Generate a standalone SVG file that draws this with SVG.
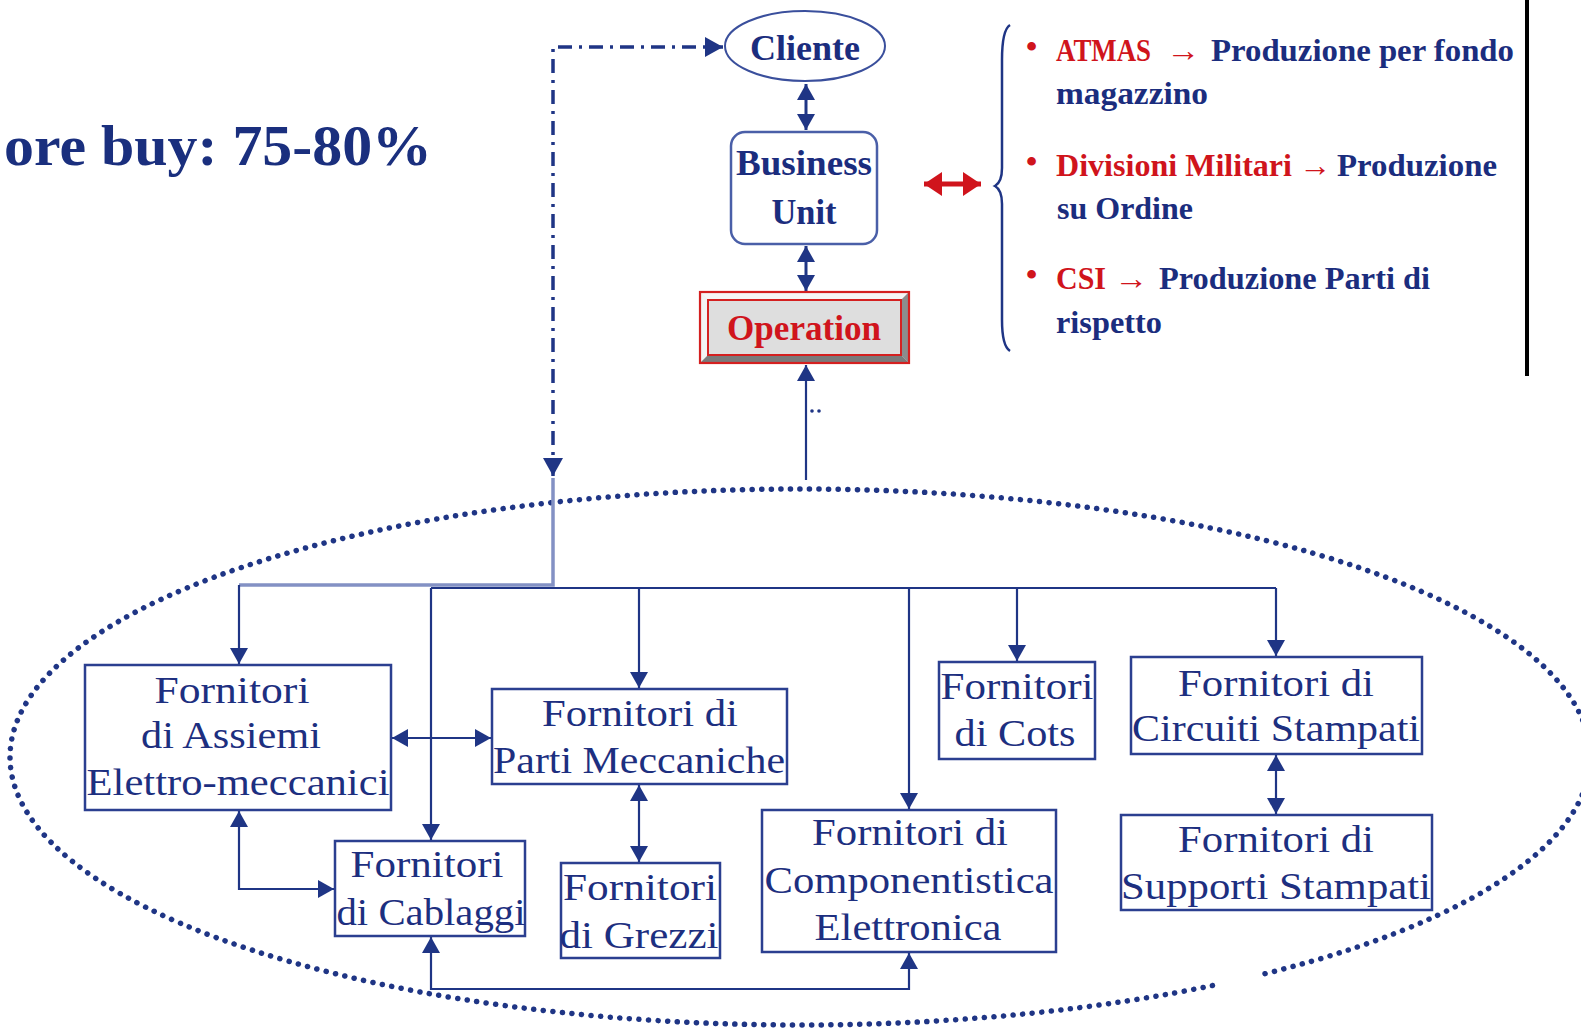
<svg xmlns="http://www.w3.org/2000/svg" width="1581" height="1028" viewBox="0 0 1581 1028">
  <style>
    .box { fill: #ffffff; stroke: #2b3f90; stroke-width: 2.5; }
    .lbl { font-family: "Liberation Serif", "Times New Roman", serif; font-size: 38px; fill: #1d2f80; text-anchor: middle; }
    .top { font-family: "Liberation Serif", "Times New Roman", serif; font-size: 36px; font-weight: bold; fill: #1b2d7e; text-anchor: middle; }
    .lst { font-family: "Liberation Serif", "Times New Roman", serif; font-size: 32px; font-weight: bold; fill: #1b2d7e; }
    .red { fill: #d0141c; }
    .wire { fill: none; stroke: #1f3585; stroke-width: 2.2; }
    .wire2 { fill: none; stroke: #1f3585; stroke-width: 3; }
  </style>
  <defs>
    <marker id="ah" viewBox="0 0 16 18" refX="16" refY="9" markerWidth="16" markerHeight="18" markerUnits="userSpaceOnUse" orient="auto-start-reverse">
      <path d="M0,0 L16,9 L0,18 z" fill="#1f3585"/>
    </marker>
    <marker id="ahBig" viewBox="0 0 18 20" refX="18" refY="10" markerWidth="18" markerHeight="20" markerUnits="userSpaceOnUse" orient="auto-start-reverse">
      <path d="M0,0 L18,10 L0,20 z" fill="#1f3585"/>
    </marker>
    <marker id="ahRed" viewBox="0 0 18 24" refX="18" refY="12" markerWidth="18" markerHeight="24" markerUnits="userSpaceOnUse" orient="auto-start-reverse">
      <path d="M0,0 L18,12 L0,24 z" fill="#d0141c"/>
    </marker>
  </defs>

  <rect width="1581" height="1028" fill="#ffffff"/>

  <!-- headline -->
  <text x="4" y="165" font-family="'Liberation Serif', 'Times New Roman', serif" font-size="58" font-weight="bold" fill="#1a2f7e" textLength="428" lengthAdjust="spacingAndGlyphs">ore buy: 75-80%</text>

  <!-- vertical rule on the right -->
  <line x1="1527" y1="0" x2="1527" y2="376" stroke="#000000" stroke-width="4"/>

  <!-- dotted supplier ellipse (open at the lower right) -->
  <path d="M1265,973.7 A790,268 0 0 0 800,489 A790,268 0 0 0 10,757 A790,268 0 0 0 1218,984.4" fill="none" stroke="#1f3585" stroke-width="5.5" stroke-linecap="round" stroke-dasharray="0.1 9.5"/>

  <!-- connectors -->
  <g id="connectors">
    <path class="wire2" d="M806,84 L806,130" marker-start="url(#ah)" marker-end="url(#ah)"/>
    <path class="wire2" d="M806,246 L806,291" marker-start="url(#ah)" marker-end="url(#ah)"/>
    <path class="wire" d="M806,480 L806,365" marker-end="url(#ah)"/>
    <circle cx="812" cy="411" r="1.8" fill="#1f3585"/>
    <circle cx="819" cy="411" r="1.8" fill="#1f3585"/>
    <path d="M553,476 L553,47 L723,47" fill="none" stroke="#1f3585" stroke-width="3.5" stroke-dasharray="14 7 3 7" marker-start="url(#ahBig)" marker-end="url(#ahBig)"/>
    <path d="M553,478 L553,585 L239,585" fill="none" stroke="#8391c4" stroke-width="3.5"/>
    <path class="wire" d="M239,585 L239,664" marker-end="url(#ah)"/>
    <path class="wire" d="M431,588 L1276,588"/>
    <path class="wire" d="M431,588 L431,840" marker-end="url(#ah)"/>
    <path class="wire" d="M639,588 L639,688" marker-end="url(#ah)"/>
    <path class="wire" d="M909,588 L909,809" marker-end="url(#ah)"/>
    <path class="wire" d="M1017,588 L1017,661" marker-end="url(#ah)"/>
    <path class="wire" d="M1276,588 L1276,656" marker-end="url(#ah)"/>
    <path class="wire" d="M392,738 L491,738" marker-start="url(#ah)" marker-end="url(#ah)"/>
    <path class="wire" d="M239,811 L239,889 L334,889" marker-start="url(#ah)" marker-end="url(#ah)"/>
    <path class="wire" d="M639,785 L639,862" marker-start="url(#ah)" marker-end="url(#ah)"/>
    <path class="wire" d="M1276,755 L1276,814" marker-start="url(#ah)" marker-end="url(#ah)"/>
    <path class="wire" d="M431,937 L431,989 L909,989 L909,953" marker-start="url(#ah)" marker-end="url(#ah)"/>
    <path d="M924,184 L981,184" fill="none" stroke="#d0141c" stroke-width="5" marker-start="url(#ahRed)" marker-end="url(#ahRed)"/>
  </g>

  <!-- top chain -->
  <g id="cliente">
    <ellipse cx="805" cy="46" rx="80" ry="35" fill="#ffffff" stroke="#3a4f9c" stroke-width="2"/>
    <text class="top" x="805" y="60" textLength="110" lengthAdjust="spacingAndGlyphs">Cliente</text>
  </g>
  <g id="business-unit">
    <rect x="731" y="132" width="146" height="112" rx="14" fill="#ffffff" stroke="#4a5fa8" stroke-width="2.5"/>
    <text class="top" x="804" y="175" textLength="136" lengthAdjust="spacingAndGlyphs">Business</text>
    <text class="top" x="804" y="224" textLength="65" lengthAdjust="spacingAndGlyphs">Unit</text>
  </g>
  <g id="operation">
    <rect x="700" y="292" width="209" height="71" fill="#ececec"/>
    <polygon points="700,292 909,292 901,300 708,300" fill="#f6f6f6"/>
    <polygon points="700,292 708,300 708,355 700,363" fill="#f2f2f2"/>
    <polygon points="909,292 909,363 901,355 901,300" fill="#8c8c8c"/>
    <polygon points="700,363 909,363 901,355 708,355" fill="#7a7a7a"/>
    <rect x="708" y="300" width="193" height="55" fill="#dedede" stroke="#d42020" stroke-width="2"/>
    <rect x="700" y="292" width="209" height="71" fill="none" stroke="#d42020" stroke-width="2.2"/>
    <text class="top" x="804" y="340" style="fill:#d0141c" textLength="154" lengthAdjust="spacingAndGlyphs">Operation</text>
  </g>

  <!-- business lines list -->
  <g id="business-lines">
    <path d="M1010,25 Q1002,30 1002,60 L1002,168 Q1002,182 995,186 Q1002,190 1002,204 L1002,320 Q1002,346 1010,351" fill="none" stroke="#1f3585" stroke-width="2.5"/>
    <text class="lst red" x="1026" y="57" font-size="24">•</text>
    <text class="lst red" transform="translate(1056,61) scale(0.84,1)" x="0" y="0">ATMAS</text>
    <text class="lst" y="61"><tspan class="red" x="1166" textLength="34" lengthAdjust="spacingAndGlyphs">→</tspan><tspan x="1211" textLength="303" lengthAdjust="spacingAndGlyphs">Produzione per fondo</tspan></text>
    <text class="lst" x="1056" y="104" textLength="152" lengthAdjust="spacingAndGlyphs">magazzino</text>
    <text class="lst red" x="1026" y="172" font-size="24">•</text>
    <text class="lst" y="176"><tspan class="red" x="1056" textLength="236" lengthAdjust="spacingAndGlyphs">Divisioni Militari</tspan><tspan class="red" x="1299" textLength="32" lengthAdjust="spacingAndGlyphs">→</tspan><tspan x="1337" textLength="160" lengthAdjust="spacingAndGlyphs">Produzione</tspan></text>
    <text class="lst" x="1057" y="219" textLength="136" lengthAdjust="spacingAndGlyphs">su Ordine</text>
    <text class="lst red" x="1026" y="285" font-size="24">•</text>
    <text class="lst" y="289"><tspan class="red" x="1056" textLength="50" lengthAdjust="spacingAndGlyphs">CSI</tspan><tspan class="red" x="1114" textLength="34" lengthAdjust="spacingAndGlyphs">→</tspan><tspan x="1159" textLength="271" lengthAdjust="spacingAndGlyphs">Produzione Parti di</tspan></text>
    <text class="lst" x="1056" y="333" textLength="106" lengthAdjust="spacingAndGlyphs">rispetto</text>
  </g>

  <!-- supplier nodes -->
  <g id="assiemi">
    <rect class="box" x="85" y="665" width="306" height="145"/>
    <text class="lbl" x="232" y="703" textLength="155" lengthAdjust="spacingAndGlyphs">Fornitori</text>
    <text class="lbl" x="231" y="748" textLength="180" lengthAdjust="spacingAndGlyphs">di Assiemi</text>
    <text class="lbl" x="238" y="795" textLength="303" lengthAdjust="spacingAndGlyphs">Elettro-meccanici</text>
  </g>
  <g id="parti-meccaniche">
    <rect class="box" x="492" y="689" width="295" height="95"/>
    <text class="lbl" x="640" y="726" textLength="196" lengthAdjust="spacingAndGlyphs">Fornitori di</text>
    <text class="lbl" x="639" y="773" textLength="292" lengthAdjust="spacingAndGlyphs">Parti Meccaniche</text>
  </g>
  <g id="cots">
    <rect class="box" x="939" y="662" width="156" height="97"/>
    <text class="lbl" x="1017" y="699" textLength="153" lengthAdjust="spacingAndGlyphs">Fornitori</text>
    <text class="lbl" x="1015" y="746" textLength="121" lengthAdjust="spacingAndGlyphs">di Cots</text>
  </g>
  <g id="circuiti-stampati">
    <rect class="box" x="1131" y="657" width="291" height="97"/>
    <text class="lbl" x="1276" y="696" textLength="196" lengthAdjust="spacingAndGlyphs">Fornitori di</text>
    <text class="lbl" x="1276" y="741" textLength="288" lengthAdjust="spacingAndGlyphs">Circuiti Stampati</text>
  </g>
  <g id="supporti-stampati">
    <rect class="box" x="1121" y="815" width="311" height="95"/>
    <text class="lbl" x="1276" y="852" textLength="196" lengthAdjust="spacingAndGlyphs">Fornitori di</text>
    <text class="lbl" x="1276" y="899" textLength="310" lengthAdjust="spacingAndGlyphs">Supporti Stampati</text>
  </g>
  <g id="componentistica">
    <rect class="box" x="762" y="810" width="294" height="142"/>
    <text class="lbl" x="910" y="845" textLength="196" lengthAdjust="spacingAndGlyphs">Fornitori di</text>
    <text class="lbl" x="909" y="893" textLength="289" lengthAdjust="spacingAndGlyphs">Componentistica</text>
    <text class="lbl" x="908" y="940" textLength="187" lengthAdjust="spacingAndGlyphs">Elettronica</text>
  </g>
  <g id="cablaggi">
    <rect class="box" x="335" y="841" width="190" height="95"/>
    <text class="lbl" x="427" y="877" textLength="153" lengthAdjust="spacingAndGlyphs">Fornitori</text>
    <text class="lbl" x="431" y="925" textLength="189" lengthAdjust="spacingAndGlyphs">di Cablaggi</text>
  </g>
  <g id="grezzi">
    <rect class="box" x="561" y="863" width="159" height="95"/>
    <text class="lbl" x="640" y="900" textLength="154" lengthAdjust="spacingAndGlyphs">Fornitori</text>
    <text class="lbl" x="639" y="948" textLength="159" lengthAdjust="spacingAndGlyphs">di Grezzi</text>
  </g>
</svg>
